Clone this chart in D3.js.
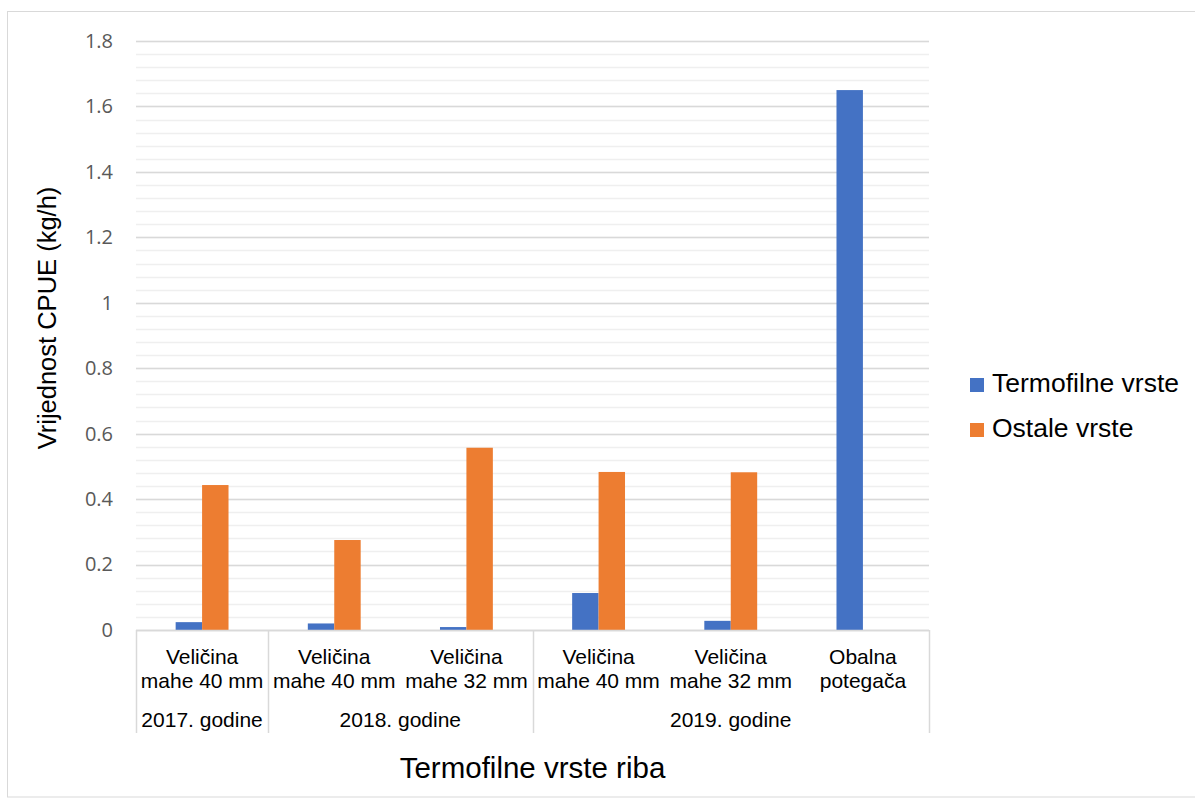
<!DOCTYPE html>
<html><head><meta charset="utf-8">
<script src="https://cdn.jsdelivr.net/npm/d3@7"></script>
<style>body{margin:0;background:#fff;} svg{display:block;}</style>
</head><body>
<svg id="c" width="1195" height="798"></svg>
<script>
const categories = ["c1","c2","c3","c4","c5","c6"];
const labelLine1 = ["Veličina","Veličina","Veličina","Veličina","Veličina","Obalna"];
const labelLine2 = ["mahe 40 mm","mahe 40 mm","mahe 32 mm","mahe 40 mm","mahe 32 mm","potegača"];
const groups = [{name:"2017. godine", start:0, end:0},{name:"2018. godine", start:1, end:2},{name:"2019. godine", start:3, end:5}];
const seriesNames = ["Termofilne vrste","Ostale vrste"];
const termofilne = [0.024, 0.020, 0.009, 0.113, 0.028, 1.65];
const ostale = [0.443, 0.275, 0.557, 0.483, 0.482, 0];
const yTicks = [0,0.2,0.4,0.6,0.8,1,1.2,1.4,1.6,1.8];
const colors = ["#4472C4","#ED7D31"];

const svg = d3.select("#c");
const W=1195,H=798;
svg.append("rect").attr("x",7.5).attr("y",11.5).attr("width",W).attr("height",785.5)
  .attr("fill","none").attr("stroke","#d9d9d9").attr("stroke-width",1);

const L=136,R=929,T=41,B=630;
const x = d3.scaleBand().domain(categories).range([L,R]).paddingInner(0).paddingOuter(0);
const y = d3.scaleLinear().domain([0,1.8]).range([B,T]);
const barW = x.bandwidth()*0.2;

const minor = d3.range(0,1.8001,0.04);
svg.append("g").selectAll("line").data(minor).join("line")
  .attr("x1",L).attr("x2",R).attr("y1",d=>Math.round(y(d))+0.5).attr("y2",d=>Math.round(y(d))+0.5)
  .attr("stroke","#efefef").attr("stroke-width",1.5);
svg.append("g").selectAll("line").data(yTicks).join("line")
  .attr("x1",L).attr("x2",R).attr("y1",d=>Math.round(y(d))+0.5).attr("y2",d=>Math.round(y(d))+0.5)
  .attr("stroke","#d9d9d9").attr("stroke-width",1.5);

const yAxis = svg.append("g").attr("transform",`translate(${L-23},0)`)
  .call(d3.axisLeft(y).tickValues(yTicks).tickSize(0).tickPadding(0).tickFormat(d=>String(+d.toFixed(1))));
yAxis.select(".domain").remove();
yAxis.selectAll("text").attr("fill","#595959").style("font-family","'Open Sans', Calibri, sans-serif").style("font-size","20px");

const series=[termofilne,ostale];
series.forEach((vals,si)=>{
  svg.append("g").selectAll("rect").data(vals).join("rect")
    .attr("x",(d,i)=>x(categories[i])+x.bandwidth()/2-barW+si*barW)
    .attr("width",barW)
    .attr("y",d=>y(d)).attr("height",d=>B-y(d))
    .attr("fill",colors[si]);
});

svg.append("line").attr("x1",L).attr("x2",R).attr("y1",B+0.5).attr("y2",B+0.5).attr("stroke","#d9d9d9").attr("stroke-width",1.5);
const seps=[L];
groups.forEach(g=>seps.push(x(categories[g.end])+x.bandwidth()));
svg.append("g").selectAll("line").data(seps).join("line")
  .attr("x1",d=>Math.round(d)+0.5).attr("x2",d=>Math.round(d)+0.5).attr("y1",B).attr("y2",733)
  .attr("stroke","#d9d9d9").attr("stroke-width",1.5);

const font="Arial, 'Liberation Sans', sans-serif";
const catG = svg.append("g").style("font-family",font).style("font-size","21px").attr("fill","#000").attr("text-anchor","middle");
categories.forEach((c,i)=>{
  const cx=x(c)+x.bandwidth()/2;
  catG.append("text").attr("x",cx).attr("y",664).text(labelLine1[i]);
  catG.append("text").attr("x",cx).attr("y",688).text(labelLine2[i]);
});
groups.forEach(g=>{
  const cx=(x(categories[g.start])+x(categories[g.end])+x.bandwidth())/2;
  catG.append("text").attr("x",cx).attr("y",727).text(g.name);
});

svg.append("text").attr("x",(L+R)/2).attr("y",778).attr("text-anchor","middle")
  .style("font-family",font).style("font-size","29.5px").text("Termofilne vrste riba");
svg.append("text").attr("transform",`translate(56,318) rotate(-90)`).attr("text-anchor","middle")
  .style("font-family",font).style("font-size","25.5px").text("Vrijednost CPUE (kg/h)");

const lg=svg.append("g");
seriesNames.forEach((n,i)=>{
  const yy=392+i*45;
  lg.append("rect").attr("x",970).attr("y",yy-14).attr("width",14).attr("height",14).attr("fill",colors[i]);
  lg.append("text").attr("x",992).attr("y",yy).style("font-family",font).style("font-size","26.5px").text(n);
});
</script>
</body></html>
